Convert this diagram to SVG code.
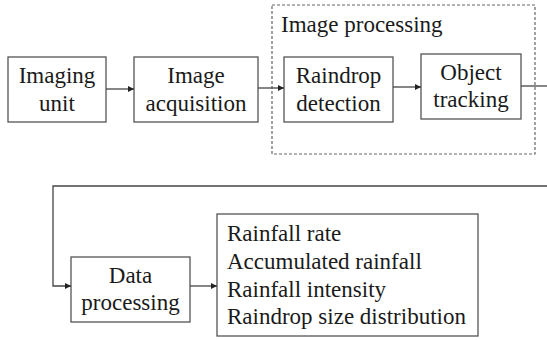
<svg xmlns="http://www.w3.org/2000/svg" width="547" height="340" viewBox="0 0 547 340">
<defs>
<marker id="ah" viewBox="0 0 10 10" refX="10" refY="5" markerWidth="8" markerHeight="6" markerUnits="userSpaceOnUse" orient="auto">
<path d="M0,0 L10,5 L0,10 Z" fill="#222"/>
</marker>
<style>
.box{fill:#fff;stroke:#555;stroke-width:1.3}
.t{font-family:"Times New Roman",Tinos,"Liberation Serif","Noto Serif","DejaVu Serif",FreeSerif,serif;font-size:23px;fill:#1a1a1a}
.c{text-anchor:middle}
.ln{fill:none;stroke:#444;stroke-width:1.3}
</style>
</defs>
<rect width="547" height="340" fill="#fff"/>
<g id="image-processing">
<rect x="272" y="5" width="263" height="149" fill="none" stroke="#666" stroke-width="1.2" stroke-dasharray="3,2"/>
<text class="t" x="281" y="32">Image processing</text>
</g>
<g id="imaging-unit">
<rect class="box" x="8" y="57" width="98" height="65"/>
<text class="t c" x="57" y="83">Imaging</text>
<text class="t c" x="57" y="111">unit</text>
</g>
<g id="image-acquisition">
<rect class="box" x="134" y="57" width="124" height="65"/>
<text class="t c" x="196" y="83">Image</text>
<text class="t c" x="196" y="111">acquisition</text>
</g>
<g id="raindrop-detection">
<rect class="box" x="284" y="57" width="109" height="65"/>
<text class="t c" x="338.5" y="83">Raindrop</text>
<text class="t c" x="338.5" y="111">detection</text>
</g>
<g id="object-tracking">
<rect class="box" x="421" y="54" width="100" height="65"/>
<text class="t c" x="471" y="80">Object</text>
<text class="t c" x="471" y="107">tracking</text>
</g>
<g id="data-processing">
<rect class="box" x="71" y="257" width="119" height="65"/>
<text class="t c" x="130.5" y="283">Data</text>
<text class="t c" x="130.5" y="310">processing</text>
</g>
<g id="outputs">
<rect class="box" x="217" y="214" width="261" height="122"/>
<text class="t" x="227" y="241">Rainfall rate</text>
<text class="t" x="227" y="269">Accumulated rainfall</text>
<text class="t" x="227" y="297">Rainfall intensity</text>
<text class="t" x="227" y="324">Raindrop size distribution</text>
</g>
<g id="connectors">
<line class="ln" x1="106" y1="89" x2="134" y2="89" marker-end="url(#ah)"/>
<line class="ln" x1="258" y1="88" x2="284" y2="88" marker-end="url(#ah)"/>
<line class="ln" x1="393" y1="87" x2="421" y2="87" marker-end="url(#ah)"/>
<polyline class="ln" points="521,86 547,86"/>
<polyline class="ln" points="547,186 53,186 53,286 71,286" marker-end="url(#ah)"/>
<line class="ln" x1="190" y1="286" x2="217" y2="286" marker-end="url(#ah)"/>
</g>
</svg>
